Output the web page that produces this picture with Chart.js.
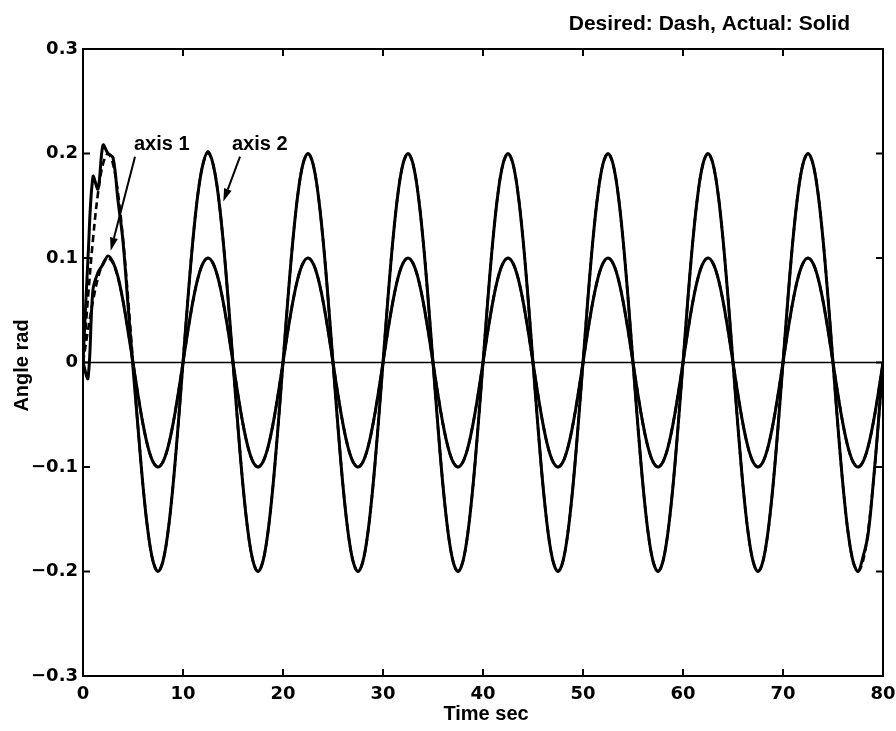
<!DOCTYPE html>
<html>
<head>
<meta charset="utf-8">
<script src="https://cdn.jsdelivr.net/npm/chart.js@4.4.1/dist/chart.umd.min.js"></script>
<style>
    html, body { margin: 0; padding: 0; background: #fff; }
    #wrap { width: 896px; height: 731px; position: relative; }
</style>
</head>
<body>
<div id="wrap"><canvas id="angleChart"></canvas></div>
<script>
// time axis, seconds
const times = [
    0, 0.5, 1, 1.5, 2, 2.5, 3, 3.5, 4, 4.5, 5, 5.5, 6, 6.5, 7, 7.5, 8, 8.5, 9, 9.5,
    10, 10.5, 11, 11.5, 12, 12.5, 13, 13.5, 14, 14.5, 15, 15.5, 16, 16.5, 17, 17.5, 18, 18.5, 19, 19.5,
    20, 20.5, 21, 21.5, 22, 22.5, 23, 23.5, 24, 24.5, 25, 25.5, 26, 26.5, 27, 27.5, 28, 28.5, 29, 29.5,
    30, 30.5, 31, 31.5, 32, 32.5, 33, 33.5, 34, 34.5, 35, 35.5, 36, 36.5, 37, 37.5, 38, 38.5, 39, 39.5,
    40, 40.5, 41, 41.5, 42, 42.5, 43, 43.5, 44, 44.5, 45, 45.5, 46, 46.5, 47, 47.5, 48, 48.5, 49, 49.5,
    50, 50.5, 51, 51.5, 52, 52.5, 53, 53.5, 54, 54.5, 55, 55.5, 56, 56.5, 57, 57.5, 58, 58.5, 59, 59.5,
    60, 60.5, 61, 61.5, 62, 62.5, 63, 63.5, 64, 64.5, 65, 65.5, 66, 66.5, 67, 67.5, 68, 68.5, 69, 69.5,
    70, 70.5, 71, 71.5, 72, 72.5, 73, 73.5, 74, 74.5, 75, 75.5, 76, 76.5, 77, 77.5, 78, 78.5, 79, 79.5,
    80
];

// axis 1, desired (dash)
const axis1Desired = [
    0, 0.031, 0.059, 0.081, 0.095, 0.1, 0.095, 0.081, 0.059, 0.031, 0, -0.031, -0.059, -0.081, -0.095, -0.1, -0.095, -0.081, -0.059, -0.031,
    0, 0.031, 0.059, 0.081, 0.095, 0.1, 0.095, 0.081, 0.059, 0.031, 0, -0.031, -0.059, -0.081, -0.095, -0.1, -0.095, -0.081, -0.059, -0.031,
    0, 0.031, 0.059, 0.081, 0.095, 0.1, 0.095, 0.081, 0.059, 0.031, 0, -0.031, -0.059, -0.081, -0.095, -0.1, -0.095, -0.081, -0.059, -0.031,
    0, 0.031, 0.059, 0.081, 0.095, 0.1, 0.095, 0.081, 0.059, 0.031, 0, -0.031, -0.059, -0.081, -0.095, -0.1, -0.095, -0.081, -0.059, -0.031,
    0, 0.031, 0.059, 0.081, 0.095, 0.1, 0.095, 0.081, 0.059, 0.031, 0, -0.031, -0.059, -0.081, -0.095, -0.1, -0.095, -0.081, -0.059, -0.031,
    0, 0.031, 0.059, 0.081, 0.095, 0.1, 0.095, 0.081, 0.059, 0.031, 0, -0.031, -0.059, -0.081, -0.095, -0.1, -0.095, -0.081, -0.059, -0.031,
    0, 0.031, 0.059, 0.081, 0.095, 0.1, 0.095, 0.081, 0.059, 0.031, 0, -0.031, -0.059, -0.081, -0.095, -0.1, -0.095, -0.081, -0.059, -0.031,
    0, 0.031, 0.059, 0.081, 0.095, 0.1, 0.095, 0.081, 0.059, 0.031, 0, -0.031, -0.059, -0.081, -0.095, -0.1, -0.095, -0.081, -0.059, -0.031,
    0
];

// axis 2, desired (dash)
const axis2Desired = [
    0, 0.062, 0.118, 0.162, 0.19, 0.2, 0.19, 0.162, 0.118, 0.062, 0, -0.062, -0.118, -0.162, -0.19, -0.2, -0.19, -0.162, -0.118, -0.062,
    0, 0.062, 0.118, 0.162, 0.19, 0.2, 0.19, 0.162, 0.118, 0.062, 0, -0.062, -0.118, -0.162, -0.19, -0.2, -0.19, -0.162, -0.118, -0.062,
    0, 0.062, 0.118, 0.162, 0.19, 0.2, 0.19, 0.162, 0.118, 0.062, 0, -0.062, -0.118, -0.162, -0.19, -0.2, -0.19, -0.162, -0.118, -0.062,
    0, 0.062, 0.118, 0.162, 0.19, 0.2, 0.19, 0.162, 0.118, 0.062, 0, -0.062, -0.118, -0.162, -0.19, -0.2, -0.19, -0.162, -0.118, -0.062,
    0, 0.062, 0.118, 0.162, 0.19, 0.2, 0.19, 0.162, 0.118, 0.062, 0, -0.062, -0.118, -0.162, -0.19, -0.2, -0.19, -0.162, -0.118, -0.062,
    0, 0.062, 0.118, 0.162, 0.19, 0.2, 0.19, 0.162, 0.118, 0.062, 0, -0.062, -0.118, -0.162, -0.19, -0.2, -0.19, -0.162, -0.118, -0.062,
    0, 0.062, 0.118, 0.162, 0.19, 0.2, 0.19, 0.162, 0.118, 0.062, 0, -0.062, -0.118, -0.162, -0.19, -0.2, -0.19, -0.162, -0.118, -0.062,
    0, 0.062, 0.118, 0.162, 0.19, 0.2, 0.19, 0.162, 0.118, 0.062, 0, -0.062, -0.118, -0.162, -0.19, -0.2, -0.19, -0.162, -0.118, -0.062,
    0
];

// axis 1, actual (solid)
const axis1Actual = [
    0, -0.015, 0.07, 0.086, 0.094, 0.102, 0.096, 0.082, 0.059, 0.03, 0, -0.031, -0.059, -0.081, -0.095, -0.1, -0.095, -0.081, -0.059, -0.031,
    0, 0.031, 0.059, 0.081, 0.095, 0.1, 0.095, 0.081, 0.059, 0.031, 0, -0.031, -0.059, -0.081, -0.095, -0.1, -0.095, -0.081, -0.059, -0.031,
    0, 0.031, 0.059, 0.081, 0.095, 0.1, 0.095, 0.081, 0.059, 0.031, 0, -0.031, -0.059, -0.081, -0.095, -0.1, -0.095, -0.081, -0.059, -0.031,
    0, 0.031, 0.059, 0.081, 0.095, 0.1, 0.095, 0.081, 0.059, 0.031, 0, -0.031, -0.059, -0.081, -0.095, -0.1, -0.095, -0.081, -0.059, -0.031,
    0, 0.031, 0.059, 0.081, 0.095, 0.1, 0.095, 0.081, 0.059, 0.031, 0, -0.031, -0.059, -0.081, -0.095, -0.1, -0.095, -0.081, -0.059, -0.031,
    0, 0.031, 0.059, 0.081, 0.095, 0.1, 0.095, 0.081, 0.059, 0.031, 0, -0.031, -0.059, -0.081, -0.095, -0.1, -0.095, -0.081, -0.059, -0.031,
    0, 0.031, 0.059, 0.081, 0.095, 0.1, 0.095, 0.081, 0.059, 0.031, 0, -0.031, -0.059, -0.081, -0.095, -0.1, -0.095, -0.081, -0.059, -0.031,
    0, 0.031, 0.059, 0.081, 0.095, 0.1, 0.095, 0.081, 0.059, 0.031, 0, -0.031, -0.059, -0.081, -0.095, -0.1, -0.095, -0.081, -0.059, -0.031,
    0
];

// axis 2, actual (solid)
const axis2Actual = [
    0, 0.1, 0.178, 0.166, 0.208, 0.2, 0.196, 0.155, 0.116, 0.055, -0.005, -0.062, -0.118, -0.162, -0.19, -0.2, -0.19, -0.162, -0.118, -0.062,
    0, 0.062, 0.118, 0.162, 0.19, 0.202, 0.19, 0.162, 0.118, 0.062, 0, -0.062, -0.118, -0.162, -0.19, -0.2, -0.19, -0.162, -0.118, -0.062,
    0, 0.062, 0.118, 0.162, 0.19, 0.2, 0.19, 0.162, 0.118, 0.062, 0, -0.062, -0.118, -0.162, -0.19, -0.2, -0.19, -0.162, -0.118, -0.062,
    0, 0.062, 0.118, 0.162, 0.19, 0.2, 0.19, 0.162, 0.118, 0.062, 0, -0.062, -0.118, -0.162, -0.19, -0.2, -0.19, -0.162, -0.118, -0.062,
    0, 0.062, 0.118, 0.162, 0.19, 0.2, 0.19, 0.162, 0.118, 0.062, 0, -0.062, -0.118, -0.162, -0.19, -0.2, -0.19, -0.162, -0.118, -0.062,
    0, 0.062, 0.118, 0.162, 0.19, 0.2, 0.19, 0.162, 0.118, 0.062, 0, -0.062, -0.118, -0.162, -0.19, -0.2, -0.19, -0.162, -0.118, -0.062,
    0, 0.062, 0.118, 0.162, 0.19, 0.2, 0.19, 0.162, 0.118, 0.062, 0, -0.062, -0.118, -0.162, -0.19, -0.2, -0.19, -0.162, -0.118, -0.062,
    0, 0.062, 0.118, 0.162, 0.19, 0.2, 0.19, 0.162, 0.118, 0.062, 0, -0.062, -0.118, -0.162, -0.19, -0.2, -0.186, -0.165, -0.118, -0.062,
    0
];

// zero reference line
const zeroTimes = [0, 80];
const zeroValues = [0, 0];

const xTickValues = [0, 10, 20, 30, 40, 50, 60, 70, 80];
const xTickLabels = ['0', '10', '20', '30', '40', '50', '60', '70', '80'];
const yTickValues = [-0.3, -0.2, -0.1, 0, 0.1, 0.2, 0.3];
const yTickLabels = ['\u22120.3', '\u22120.2', '\u22120.1', '0', '0.1', '0.2', '0.3'];

const titleText = 'Desired: Dash, Actual: Solid';
const xTitleText = 'Time sec';
const yTitleText = 'Angle rad';

const toPoints = (xs, ys) =>
{
    return xs.map((x, i) => ({x: x, y: ys[i]}));
};

const tickFont = {family: 'DejaVu Sans', size: 18, weight: 'bold'};
const labelFont = 'bold 20px "Liberation Sans", Arial, sans-serif';

const drawArrow = (ctx, x0, y0, x1, y1) =>
{
    const ang = Math.atan2(y1 - y0, x1 - x0);
    const headLen = 13;
    const headHalf = 4;
    const bx = x1 - headLen * Math.cos(ang);
    const by = y1 - headLen * Math.sin(ang);

    ctx.beginPath();
    ctx.moveTo(x0, y0);
    ctx.lineTo(bx, by);
    ctx.stroke();

    ctx.beginPath();
    ctx.moveTo(x1, y1);
    ctx.lineTo(bx + headHalf * Math.sin(ang), by - headHalf * Math.cos(ang));
    ctx.lineTo(bx - headHalf * Math.sin(ang), by + headHalf * Math.cos(ang));
    ctx.closePath();
    ctx.fill();
};

// box, inward ticks, titles and the two arrow labels
const framePlugin = {
    id: 'frame',
    afterDraw: (chart) =>
    {
        const ctx = chart.ctx;
        const area = chart.chartArea;
        const xs = chart.scales.x;
        const ys = chart.scales.y;
        const tickLen = 7;

        ctx.save();
        ctx.strokeStyle = '#000';
        ctx.fillStyle = '#000';
        ctx.lineWidth = 2;
        ctx.strokeRect(area.left, area.top, area.right - area.left, area.bottom - area.top);

        ctx.beginPath();
        xTickValues.forEach(v =>
        {
            const px = xs.getPixelForValue(v);
            ctx.moveTo(px, area.bottom);
            ctx.lineTo(px, area.bottom - tickLen);
            ctx.moveTo(px, area.top);
            ctx.lineTo(px, area.top + tickLen);
        });
        yTickValues.forEach(v =>
        {
            const py = ys.getPixelForValue(v);
            ctx.moveTo(area.left, py);
            ctx.lineTo(area.left + tickLen, py);
            ctx.moveTo(area.right, py);
            ctx.lineTo(area.right - tickLen, py);
        });
        ctx.stroke();

        ctx.font = 'bold 21px "Liberation Sans", Arial, sans-serif';
        ctx.textAlign = 'right';
        ctx.textBaseline = 'alphabetic';
        ctx.fillText(titleText, 850, 30);

        ctx.font = labelFont;
        ctx.textAlign = 'center';
        ctx.fillText(xTitleText, (area.left + area.right) / 2 + 3, 720);

        ctx.save();
        ctx.translate(28, (area.top + area.bottom) / 2 + 3);
        ctx.rotate(-Math.PI / 2);
        ctx.fillText(yTitleText, 0, 0);
        ctx.restore();

        ctx.textAlign = 'left';
        ctx.fillText('axis 1', xs.getPixelForValue(5.1), ys.getPixelForValue(0.203));
        ctx.fillText('axis 2', xs.getPixelForValue(14.9), ys.getPixelForValue(0.203));

        ctx.lineWidth = 2;
        drawArrow(ctx, xs.getPixelForValue(5.2), ys.getPixelForValue(0.197), xs.getPixelForValue(2.77), ys.getPixelForValue(0.107));
        drawArrow(ctx, xs.getPixelForValue(15.7), ys.getPixelForValue(0.197), xs.getPixelForValue(14.03), ys.getPixelForValue(0.154));
        ctx.restore();
    }
};

new Chart(document.getElementById('angleChart'), {
    type: 'line',
    data: {
        datasets: [
            {
                label: 'axis 1 actual',
                data: toPoints(times, axis1Actual),
                borderColor: '#000',
                borderWidth: 3,
                tension: 0.35,
                order: 1
            },
            {
                label: 'axis 2 actual',
                data: toPoints(times, axis2Actual),
                borderColor: '#000',
                borderWidth: 3,
                tension: 0.35,
                order: 1
            },
            {
                label: 'axis 1 desired',
                data: toPoints(times, axis1Desired),
                borderColor: '#000',
                borderWidth: 2.6,
                borderDash: [7, 4],
                tension: 0.35,
                order: 2
            },
            {
                label: 'axis 2 desired',
                data: toPoints(times, axis2Desired),
                borderColor: '#000',
                borderWidth: 2.6,
                borderDash: [7, 4],
                tension: 0.35,
                order: 2
            },
            {
                label: 'zero',
                data: toPoints(zeroTimes, zeroValues),
                borderColor: '#000',
                borderWidth: 1.5,
                order: 3
            }
        ]
    },
    options: {
        responsive: true,
        maintainAspectRatio: false,
        animation: false,
        events: [],
        layout: {padding: {top: 49, right: 13, left: 0, bottom: 0}},
        elements: {
            point: {radius: 0},
            line: {tension: 0, fill: false}
        },
        plugins: {
            legend: {display: false},
            tooltip: {enabled: false}
        },
        scales: {
            x: {
                type: 'linear',
                min: 0,
                max: 80,
                afterBuildTicks: (scale) =>
                {
                    scale.ticks = xTickValues.map(v => ({value: v}));
                },
                afterFit: (scale) =>
                {
                    scale.height = 55;
                    scale.paddingLeft = 0;
                    scale.paddingRight = 0;
                },
                grid: {display: false, drawTicks: false},
                border: {display: false},
                ticks: {
                    color: '#000',
                    font: tickFont,
                    padding: 8,
                    maxRotation: 0,
                    autoSkip: false,
                    callback: (value, index) => xTickLabels[index]
                }
            },
            y: {
                type: 'linear',
                min: -0.3,
                max: 0.3,
                afterBuildTicks: (scale) =>
                {
                    scale.ticks = yTickValues.map(v => ({value: v}));
                },
                afterFit: (scale) =>
                {
                    scale.width = 83;
                    scale.paddingTop = 0;
                    scale.paddingBottom = 0;
                },
                grid: {display: false, drawTicks: false},
                border: {display: false},
                ticks: {
                    color: '#000',
                    font: tickFont,
                    padding: 5,
                    autoSkip: false,
                    callback: (value, index) => yTickLabels[index]
                }
            }
        }
    },
    plugins: [framePlugin]
});
</script>
</body>
</html>
